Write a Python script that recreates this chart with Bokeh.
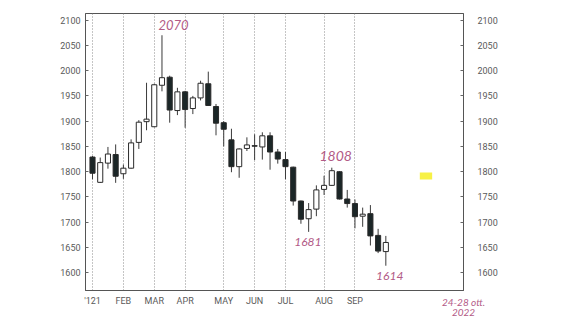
from bokeh.plotting import figure
from bokeh.models import ColumnDataSource, FixedTicker, LinearAxis, Label, BoxAnnotation, Range1d
from bokeh.embed import file_html
from bokeh.resources import INLINE

# ---- data (weekly candles, Jan - Sep) ----
weeks = list(range(39))
opens = [1829, 1779, 1817, 1834, 1796, 1807, 1858, 1899, 1889, 1971,
         1987, 1921, 1958, 1925, 1946, 1974, 1929, 1897, 1863, 1810,
         1846, 1851.5, 1849, 1871, 1839, 1824, 1809, 1742, 1707, 1726,
         1765, 1773, 1800, 1746, 1737, 1712, 1717, 1674, 1642]
highs = [1831, 1828, 1849, 1854, 1814, 1864, 1902, 1976, 1974, 2070,
         1990, 1966, 1960, 1950, 1980, 1998, 1934, 1900, 1885, 1846,
         1868, 1874, 1878, 1878, 1845, 1839, 1810, 1743, 1738, 1773,
         1792, 1808, 1801, 1764, 1745, 1729, 1734, 1687, 1673]
lows = [1785, 1778, 1806, 1778, 1786, 1806, 1845, 1882, 1888, 1959,
        1897, 1912, 1887, 1914, 1941, 1930, 1872, 1850, 1799, 1788,
        1841, 1823, 1824, 1804, 1816, 1785, 1733, 1697, 1681, 1712,
        1754, 1772, 1745, 1729, 1688, 1691, 1654, 1639, 1614]
closes = [1797, 1818, 1835, 1791, 1807, 1857, 1898, 1904, 1972, 1986,
          1922, 1958, 1923, 1946, 1975, 1931, 1896, 1884, 1810, 1845,
          1853, 1850.5, 1871, 1839, 1825, 1810, 1742, 1706, 1725, 1764,
          1773, 1802, 1746, 1737, 1711, 1716, 1673, 1643, 1660]

month_weeks = [0, 4, 8, 12, 17, 21, 25, 30, 34]
month_labels = ["'121", "FEB", "MAR", "APR", "MAY", "JUN", "JUL", "AUG", "SEP"]
y_ticks = [1600, 1650, 1700, 1750, 1800, 1850, 1900, 1950, 2000, 2050, 2100]

notes = ["2070", "1808", "1681", "1614"]
note_x = [10.5, 31.5, 27.9, 38.5]
note_y = [2091, 1832, 1661, 1593]
note_size = ["13px", "14px", "12px", "12px"]
date_note = "24-28 ott.\n2022"

# ---- build ----
up = [c >= o for o, c in zip(opens, closes)]
src = ColumnDataSource(dict(
    x=weeks, high=highs, low=lows,
    top=[max(o, c) for o, c in zip(opens, closes)],
    bottom=[min(o, c) for o, c in zip(opens, closes)],
    fill=["#ffffff" if u else "#1b2627" for u in up],
))

p = figure(width=561, height=321, output_backend="svg", toolbar_location=None,
           x_range=Range1d(-0.907, 48.06), y_range=Range1d(1565, 2113),
           min_border_left=85, min_border_right=98, min_border_top=13, min_border_bottom=31,
           background_fill_color="#ffffff", border_fill_color="#ffffff")
p.outline_line_color = "#555555"
p.outline_line_width = 1

p.segment(x0="x", y0="low", x1="x", y1="high", source=src, line_color="#3a3a3a", line_width=1)
p.vbar(x="x", top="top", bottom="bottom", width=0.66, source=src,
       fill_color="fill", line_color="#2a2a2a", line_width=1)

# grid
p.ygrid.visible = False
p.xgrid.ticker = FixedTicker(ticks=month_weeks)
p.xgrid.grid_line_color = "#8a8a8a"
p.xgrid.grid_line_dash = "1 2"
p.xgrid.grid_line_width = 1

AX_FONT = "Roboto"
AX_COLOR = "#5a5a5a"
HAND = "#b25a86"

xa = p.xaxis[0]
xa.ticker = FixedTicker(ticks=month_weeks)
xa.major_label_overrides = {w: l for w, l in zip(month_weeks, month_labels)}
xa.major_tick_in = 0
xa.major_tick_out = 0
xa.minor_tick_line_color = None
xa.axis_line_color = "#555555"
xa.major_label_standoff = 5
xa.major_label_text_font = AX_FONT
xa.major_label_text_font_size = "9px"
xa.major_label_text_color = AX_COLOR
xa.axis_label = date_note
xa.axis_label_align = "end"
xa.axis_label_standoff = -13
xa.axis_label_text_font = "Lato"
xa.axis_label_text_font_style = "italic"
xa.axis_label_text_font_size = "10px"
xa.axis_label_text_line_height = 0.85
xa.axis_label_text_color = HAND

ya = p.yaxis[0]
ya.ticker = FixedTicker(ticks=y_ticks)
ya.major_tick_in = 3
ya.major_tick_out = 0
ya.major_tick_line_color = "#666666"
ya.minor_tick_line_color = None
ya.axis_line_color = "#555555"
ya.major_label_standoff = 5
ya.major_label_text_font = AX_FONT
ya.major_label_text_font_size = "9px"
ya.major_label_text_color = AX_COLOR

ra = LinearAxis(ticker=FixedTicker(ticks=y_ticks))
ra.major_tick_in = 3
ra.major_tick_out = 0
ra.major_tick_line_color = "#666666"
ra.minor_tick_line_color = None
ra.axis_line_color = "#555555"
ra.major_label_standoff = 14
ra.major_label_text_font = AX_FONT
ra.major_label_text_font_size = "9px"
ra.major_label_text_color = AX_COLOR
p.add_layout(ra, "right")

# yellow highlight marker inside the plot
p.add_layout(BoxAnnotation(left=42.4, right=44.0, bottom=1784.5, top=1798.3,
                           fill_color="#f6f032", fill_alpha=0.9, line_alpha=0, level="underlay"))

# handwritten notes
for t, x, y, s in zip(notes, note_x, note_y, note_size):
    p.add_layout(Label(x=x, y=y, text=t, text_align="center", text_baseline="middle",
                       text_font="Lato", text_font_style="italic", text_font_size=s,
                       text_color=HAND))

open("out.html", "w").write(file_html(p, INLINE))
